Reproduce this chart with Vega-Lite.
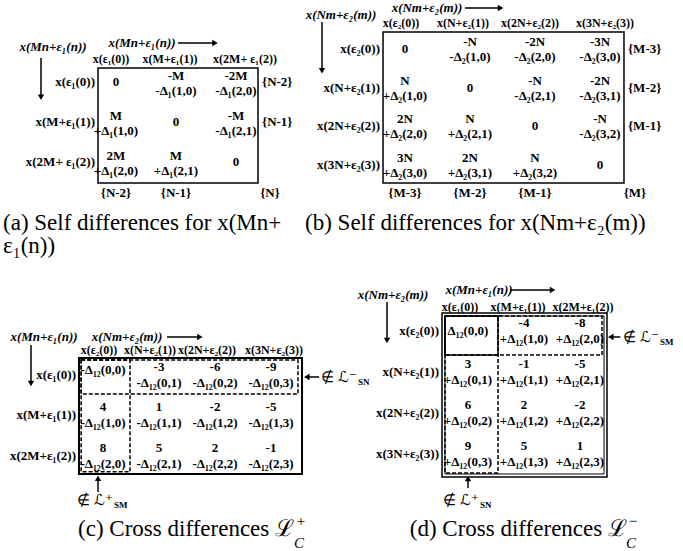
{
"$schema": "https://vega.github.io/schema/vega-lite/v6.json",
"padding": 0,
"config": {"view": {"stroke": null}, "text": {"font": "Liberation Serif", "fontSize": 13, "fontWeight": "bold", "color": "black"}, "rule": {"color": "black", "strokeWidth": 1.5}, "point": {"color": "black", "filled": true, "opacity": 1}},
"datasets": {
"a": [
{"k":"cell","r":0,"c":0,"t":"0"},
{"k":"cell","r":0,"c":1,"t":"-M\n-Δ₁(1,0)"},
{"k":"cell","r":0,"c":2,"t":"-2M\n-Δ₁(2,0)"},
{"k":"cell","r":1,"c":0,"t":"M\n+Δ₁(1,0)"},
{"k":"cell","r":1,"c":1,"t":"0"},
{"k":"cell","r":1,"c":2,"t":"-M\n-Δ₁(2,1)"},
{"k":"cell","r":2,"c":0,"t":"2M\n+Δ₁(2,0)"},
{"k":"cell","r":2,"c":1,"t":"M\n+Δ₁(2,1)"},
{"k":"cell","r":2,"c":2,"t":"0"},
{"k":"row","r":0,"t":"x(ε₁(0))"},
{"k":"row","r":1,"t":"x(M+ε₁(1))"},
{"k":"row","r":2,"t":"x(2M+ ε₁(2))"},
{"k":"col","c":0,"t":"x(ε₁(0))"},
{"k":"col","c":1,"t":"x(M+ε₁(1))"},
{"k":"col","c":2,"t":"x(2M+ ε₁(2))"},
{"k":"right","r":0,"t":"{N-2}"},
{"k":"right","r":1,"t":"{N-1}"},
{"k":"bottom","c":0,"t":"{N-2}"},
{"k":"bottom","c":1,"t":"{N-1}"},
{"k":"corner","t":"{N}"},
{"k":"lt","t":"x(Mn+ε₁(n))"},
{"k":"tt","t":"x(Mn+ε₁(n))"},
{"k":"cap","t":"(a) Self differences for x(Mn+\nε₁(n))"}
],
"b": [
{"k":"cell","r":0,"c":0,"t":"0"},
{"k":"cell","r":0,"c":1,"t":"-N\n-Δ₂(1,0)"},
{"k":"cell","r":0,"c":2,"t":"-2N\n-Δ₂(2,0)"},
{"k":"cell","r":0,"c":3,"t":"-3N\n-Δ₂(3,0)"},
{"k":"cell","r":1,"c":0,"t":"N\n+Δ₂(1,0)"},
{"k":"cell","r":1,"c":1,"t":"0"},
{"k":"cell","r":1,"c":2,"t":"-N\n-Δ₂(2,1)"},
{"k":"cell","r":1,"c":3,"t":"-2N\n-Δ₂(3,1)"},
{"k":"cell","r":2,"c":0,"t":"2N\n+Δ₂(2,0)"},
{"k":"cell","r":2,"c":1,"t":"N\n+Δ₂(2,1)"},
{"k":"cell","r":2,"c":2,"t":"0"},
{"k":"cell","r":2,"c":3,"t":"-N\n-Δ₂(3,2)"},
{"k":"cell","r":3,"c":0,"t":"3N\n+Δ₂(3,0)"},
{"k":"cell","r":3,"c":1,"t":"2N\n+Δ₂(3,1)"},
{"k":"cell","r":3,"c":2,"t":"N\n+Δ₂(3,2)"},
{"k":"cell","r":3,"c":3,"t":"0"},
{"k":"row","r":0,"t":"x(ε₂(0))"},
{"k":"row","r":1,"t":"x(N+ε₂(1))"},
{"k":"row","r":2,"t":"x(2N+ε₂(2))"},
{"k":"row","r":3,"t":"x(3N+ε₂(3))"},
{"k":"col","c":0,"t":"x(ε₂(0))"},
{"k":"col","c":1,"t":"x(N+ε₂(1))"},
{"k":"col","c":2,"t":"x(2N+ε₂(2))"},
{"k":"col","c":3,"t":"x(3N+ε₂(3))"},
{"k":"right","r":0,"t":"{M-3}"},
{"k":"right","r":1,"t":"{M-2}"},
{"k":"right","r":2,"t":"{M-1}"},
{"k":"bottom","c":0,"t":"{M-3}"},
{"k":"bottom","c":1,"t":"{M-2}"},
{"k":"bottom","c":2,"t":"{M-1}"},
{"k":"corner","t":"{M}"},
{"k":"lt","t":"x(Nm+ε₂(m))"},
{"k":"tt","t":"x(Nm+ε₂(m))"},
{"k":"cap","t":"(b) Self differences for x(Nm+ε₂(m))"}
],
"c": [
{"k":"cell","r":0,"c":0,"t":"-Δ₁₂(0,0)"},
{"k":"cell","r":0,"c":1,"t":"-3\n-Δ₁₂(0,1)"},
{"k":"cell","r":0,"c":2,"t":"-6\n-Δ₁₂(0,2)"},
{"k":"cell","r":0,"c":3,"t":"-9\n-Δ₁₂(0,3)"},
{"k":"cell","r":1,"c":0,"t":"4\n-Δ₁₂(1,0)"},
{"k":"cell","r":1,"c":1,"t":"1\n-Δ₁₂(1,1)"},
{"k":"cell","r":1,"c":2,"t":"-2\n-Δ₁₂(1,2)"},
{"k":"cell","r":1,"c":3,"t":"-5\n-Δ₁₂(1,3)"},
{"k":"cell","r":2,"c":0,"t":"8\n-Δ₁₂(2,0)"},
{"k":"cell","r":2,"c":1,"t":"5\n-Δ₁₂(2,1)"},
{"k":"cell","r":2,"c":2,"t":"2\n-Δ₁₂(2,2)"},
{"k":"cell","r":2,"c":3,"t":"-1\n-Δ₁₂(2,3)"},
{"k":"row","r":0,"t":"x(ε₁(0))"},
{"k":"row","r":1,"t":"x(M+ε₁(1))"},
{"k":"row","r":2,"t":"x(2M+ε₁(2))"},
{"k":"col","c":0,"t":"x(ε₂(0))"},
{"k":"col","c":1,"t":"x(N+ε₂(1))"},
{"k":"col","c":2,"t":"x(2N+ε₂(2))"},
{"k":"col","c":3,"t":"x(3N+ε₂(3))"},
{"k":"lt","t":"x(Mn+ε₁(n))"},
{"k":"tt","t":"x(Nm+ε₂(m))"},
{"k":"noteR","t":"∉ ℒ⁻","s":"SN"},
{"k":"noteB","t":"∉ ℒ⁺","s":"SM"},
{"k":"cap","t":"(c) Cross differences ℒ","sup":"+","sub":"C"}
],
"d": [
{"k":"cell","r":0,"c":0,"t":"Δ₁₂(0,0)"},
{"k":"cell","r":0,"c":1,"t":"-4\n+Δ₁₂(1,0)"},
{"k":"cell","r":0,"c":2,"t":"-8\n+Δ₁₂(2,0)"},
{"k":"cell","r":1,"c":0,"t":"3\n+Δ₁₂(0,1)"},
{"k":"cell","r":1,"c":1,"t":"-1\n+Δ₁₂(1,1)"},
{"k":"cell","r":1,"c":2,"t":"-5\n+Δ₁₂(2,1)"},
{"k":"cell","r":2,"c":0,"t":"6\n+Δ₁₂(0,2)"},
{"k":"cell","r":2,"c":1,"t":"2\n+Δ₁₂(1,2)"},
{"k":"cell","r":2,"c":2,"t":"-2\n+Δ₁₂(2,2)"},
{"k":"cell","r":3,"c":0,"t":"9\n+Δ₁₂(0,3)"},
{"k":"cell","r":3,"c":1,"t":"5\n+Δ₁₂(1,3)"},
{"k":"cell","r":3,"c":2,"t":"1\n+Δ₁₂(2,3)"},
{"k":"row","r":0,"t":"x(ε₂(0))"},
{"k":"row","r":1,"t":"x(N+ε₂(1))"},
{"k":"row","r":2,"t":"x(2N+ε₂(2))"},
{"k":"row","r":3,"t":"x(3N+ε₂(3))"},
{"k":"col","c":0,"t":"x(ε₁(0))"},
{"k":"col","c":1,"t":"x(M+ε₁(1))"},
{"k":"col","c":2,"t":"x(2M+ε₁(2))"},
{"k":"lt","t":"x(Nm+ε₂(m))"},
{"k":"tt","t":"x(Mn+ε₁(n))"},
{"k":"noteR","t":"∉ ℒ⁻","s":"SM"},
{"k":"noteB","t":"∉ ℒ⁺","s":"SN"},
{"k":"cap","t":"(d) Cross differences ℒ","sup":"−","sub":"C"}
]
},
"spacing": 0,
"vconcat": [
{"hconcat": [
{
"width": 300, "height": 265,
"data": {"name": "a"},
"layer": [
{"data": {"values": [{}]}, "mark": {"type": "rect", "fillOpacity": 0, "stroke": "black", "strokeWidth": 1.5}, "encoding": {"x": {"datum": -0.3, "type": "quantitative", "axis": null, "scale": {"domain": [-1.9333, 3.0667], "nice": false, "zero": false}}, "x2": {"datum": 2.367}, "y": {"datum": -0.35, "type": "quantitative", "axis": null, "scale": {"domain": [-2.05, 4.575], "nice": false, "zero": false, "reverse": true}}, "y2": {"datum": 2.525}}},
{"transform": [{"filter": "datum.k==='cell' && indexof(datum.t,'\\n')<0"}], "mark": {"type": "text", "baseline": "middle"}, "encoding": {"x": {"field": "c", "type": "quantitative", "axis": null, "scale": {"domain": [-1.9333, 3.0667], "nice": false, "zero": false}}, "y": {"field": "r", "type": "quantitative", "axis": null, "scale": {"domain": [-2.05, 4.575], "nice": false, "zero": false, "reverse": true}}, "text": {"field": "t"}}},
{"transform": [{"filter": "datum.k==='cell' && indexof(datum.t,'\\n')>=0"}], "mark": {"type": "text", "lineBreak": "\n", "lineHeight": 15, "baseline": "middle", "dy": -6}, "encoding": {"x": {"field": "c", "type": "quantitative", "axis": null}, "y": {"field": "r", "type": "quantitative", "axis": null}, "text": {"field": "t"}}},
{"transform": [{"filter": "datum.k==='row'"}], "mark": {"type": "text", "align": "right", "dx": -3, "baseline": "middle"}, "encoding": {"x": {"datum": -0.3, "type": "quantitative", "axis": null}, "y": {"field": "r", "type": "quantitative", "axis": null}, "text": {"field": "t"}}},
{"transform": [{"filter": "datum.k==='col' && datum.c===0"}], "mark": {"type": "text", "baseline": "middle", "fontSize": 12, "dx": -5}, "encoding": {"x": {"field": "c", "type": "quantitative", "axis": null}, "y": {"datum": -0.575, "type": "quantitative", "axis": null}, "text": {"field": "t"}}},
{"transform": [{"filter": "datum.k==='col' && datum.c===1"}], "mark": {"type": "text", "baseline": "middle", "fontSize": 12, "dx": -6}, "encoding": {"x": {"field": "c", "type": "quantitative", "axis": null}, "y": {"datum": -0.575, "type": "quantitative", "axis": null}, "text": {"field": "t"}}},
{"transform": [{"filter": "datum.k==='col' && datum.c===2"}], "mark": {"type": "text", "baseline": "middle", "fontSize": 12, "dx": 9}, "encoding": {"x": {"field": "c", "type": "quantitative", "axis": null}, "y": {"datum": -0.575, "type": "quantitative", "axis": null}, "text": {"field": "t"}}},
{"transform": [{"filter": "datum.k==='right'"}], "mark": {"type": "text", "align": "left", "dx": 4, "baseline": "middle"}, "encoding": {"x": {"datum": 2.367, "type": "quantitative", "axis": null}, "y": {"field": "r", "type": "quantitative", "axis": null}, "text": {"field": "t"}}},
{"transform": [{"filter": "datum.k==='bottom'"}], "mark": {"type": "text", "baseline": "middle"}, "encoding": {"x": {"field": "c", "type": "quantitative", "axis": null}, "y": {"datum": 2.775, "type": "quantitative", "axis": null}, "text": {"field": "t"}}},
{"transform": [{"filter": "datum.k==='corner'"}], "mark": {"type": "text", "baseline": "middle"}, "encoding": {"x": {"datum": 2.567, "type": "quantitative", "axis": null}, "y": {"datum": 2.775, "type": "quantitative", "axis": null}, "text": {"field": "t"}}},
{"transform": [{"filter": "datum.k==='lt'"}], "mark": {"type": "text", "fontStyle": "italic", "baseline": "middle"}, "encoding": {"x": {"datum": -1.05, "type": "quantitative", "axis": null}, "y": {"datum": -0.875, "type": "quantitative", "axis": null}, "text": {"field": "t"}}},
{"transform": [{"filter": "datum.k==='tt'"}], "mark": {"type": "text", "fontStyle": "italic", "baseline": "middle"}, "encoding": {"x": {"datum": 0.433, "type": "quantitative", "axis": null}, "y": {"datum": -0.975, "type": "quantitative", "axis": null}, "text": {"field": "t"}}},
{"data": {"values": [{}]}, "mark": {"type": "rule"}, "encoding": {"x": {"datum": -1.25, "type": "quantitative", "axis": null}, "y": {"datum": -0.6, "type": "quantitative", "axis": null}, "y2": {"datum": 0.38}}},
{"data": {"values": [{}]}, "mark": {"type": "point", "shape": "triangle-down", "size": 40}, "encoding": {"x": {"datum": -1.25, "type": "quantitative", "axis": null}, "y": {"datum": 0.38, "type": "quantitative", "axis": null}}},
{"data": {"values": [{}]}, "mark": {"type": "rule"}, "encoding": {"y": {"datum": -0.975, "type": "quantitative", "axis": null}, "x": {"datum": 1.033, "type": "quantitative", "axis": null}, "x2": {"datum": 1.65}}},
{"data": {"values": [{}]}, "mark": {"type": "point", "shape": "triangle-right", "size": 40}, "encoding": {"x": {"datum": 1.65, "type": "quantitative", "axis": null}, "y": {"datum": -0.975, "type": "quantitative", "axis": null}}},
{"transform": [{"filter": "datum.k==='cap'"}], "mark": {"type": "text", "font": "Liberation Serif", "fontSize": 23, "fontWeight": "normal", "align": "left", "baseline": "top", "lineBreak": "\n", "lineHeight": 23}, "encoding": {"x": {"datum": -1.883, "type": "quantitative", "axis": null}, "y": {"datum": 3.2375, "type": "quantitative", "axis": null}, "text": {"field": "t"}}}
]
},
{
"width": 383, "height": 265,
"data": {"name": "b"},
"layer": [
{"data": {"values": [{}]}, "mark": {"type": "rect", "fillOpacity": 0, "stroke": "black", "strokeWidth": 1.5}, "encoding": {"x": {"datum": -0.338, "type": "quantitative", "axis": null, "scale": {"domain": [-1.6154, 4.2769], "nice": false, "zero": false}}, "x2": {"datum": 3.369}, "y": {"datum": -0.455, "type": "quantitative", "axis": null, "scale": {"domain": [-1.2857, 5.5974], "nice": false, "zero": false, "reverse": true}}, "y2": {"datum": 3.468}}},
{"transform": [{"filter": "datum.k==='cell' && indexof(datum.t,'\\n')<0"}], "mark": {"type": "text", "baseline": "middle"}, "encoding": {"x": {"field": "c", "type": "quantitative", "axis": null, "scale": {"domain": [-1.6154, 4.2769], "nice": false, "zero": false}}, "y": {"field": "r", "type": "quantitative", "axis": null, "scale": {"domain": [-1.2857, 5.5974], "nice": false, "zero": false, "reverse": true}}, "text": {"field": "t"}}},
{"transform": [{"filter": "datum.k==='cell' && indexof(datum.t,'\\n')>=0"}], "mark": {"type": "text", "lineBreak": "\n", "lineHeight": 15, "baseline": "middle", "dy": -7}, "encoding": {"x": {"field": "c", "type": "quantitative", "axis": null}, "y": {"field": "r", "type": "quantitative", "axis": null}, "text": {"field": "t"}}},
{"transform": [{"filter": "datum.k==='row'"}], "mark": {"type": "text", "align": "right", "dx": -3, "baseline": "middle"}, "encoding": {"x": {"datum": -0.338, "type": "quantitative", "axis": null}, "y": {"field": "r", "type": "quantitative", "axis": null}, "text": {"field": "t"}}},
{"transform": [{"filter": "datum.k==='col' && datum.c===0"}], "mark": {"type": "text", "baseline": "middle", "fontSize": 12, "dx": -4}, "encoding": {"x": {"field": "c", "type": "quantitative", "axis": null}, "y": {"datum": -0.688, "type": "quantitative", "axis": null}, "text": {"field": "t"}}},
{"transform": [{"filter": "datum.k==='col' && datum.c===1"}], "mark": {"type": "text", "baseline": "middle", "fontSize": 12, "dx": -7}, "encoding": {"x": {"field": "c", "type": "quantitative", "axis": null}, "y": {"datum": -0.688, "type": "quantitative", "axis": null}, "text": {"field": "t"}}},
{"transform": [{"filter": "datum.k==='col' && datum.c===2"}], "mark": {"type": "text", "baseline": "middle", "fontSize": 12, "dx": -5}, "encoding": {"x": {"field": "c", "type": "quantitative", "axis": null}, "y": {"datum": -0.688, "type": "quantitative", "axis": null}, "text": {"field": "t"}}},
{"transform": [{"filter": "datum.k==='col' && datum.c===3"}], "mark": {"type": "text", "baseline": "middle", "fontSize": 12, "dx": 5}, "encoding": {"x": {"field": "c", "type": "quantitative", "axis": null}, "y": {"datum": -0.688, "type": "quantitative", "axis": null}, "text": {"field": "t"}}},
{"transform": [{"filter": "datum.k==='right'"}], "mark": {"type": "text", "align": "left", "dx": 4, "baseline": "middle"}, "encoding": {"x": {"datum": 3.369, "type": "quantitative", "axis": null}, "y": {"field": "r", "type": "quantitative", "axis": null}, "text": {"field": "t"}}},
{"transform": [{"filter": "datum.k==='bottom'"}], "mark": {"type": "text", "baseline": "middle"}, "encoding": {"x": {"field": "c", "type": "quantitative", "axis": null}, "y": {"datum": 3.727, "type": "quantitative", "axis": null}, "text": {"field": "t"}}},
{"transform": [{"filter": "datum.k==='corner'"}], "mark": {"type": "text", "baseline": "middle"}, "encoding": {"x": {"datum": 3.538, "type": "quantitative", "axis": null}, "y": {"datum": 3.727, "type": "quantitative", "axis": null}, "text": {"field": "t"}}},
{"transform": [{"filter": "datum.k==='lt'"}], "mark": {"type": "text", "fontStyle": "italic", "baseline": "middle"}, "encoding": {"x": {"datum": -0.985, "type": "quantitative", "axis": null}, "y": {"datum": -0.896, "type": "quantitative", "axis": null}, "text": {"field": "t"}}},
{"transform": [{"filter": "datum.k==='tt'"}], "mark": {"type": "text", "fontStyle": "italic", "baseline": "middle"}, "encoding": {"x": {"datum": 0.338, "type": "quantitative", "axis": null}, "y": {"datum": -1.078, "type": "quantitative", "axis": null}, "text": {"field": "t"}}},
{"data": {"values": [{}]}, "mark": {"type": "rule"}, "encoding": {"x": {"datum": -1.277, "type": "quantitative", "axis": null}, "y": {"datum": -0.714, "type": "quantitative", "axis": null}, "y2": {"datum": 0.55}}},
{"data": {"values": [{}]}, "mark": {"type": "point", "shape": "triangle-down", "size": 40}, "encoding": {"x": {"datum": -1.277, "type": "quantitative", "axis": null}, "y": {"datum": 0.55, "type": "quantitative", "axis": null}}},
{"data": {"values": [{}]}, "mark": {"type": "rule"}, "encoding": {"y": {"datum": -1.078, "type": "quantitative", "axis": null}, "x": {"datum": 0.923, "type": "quantitative", "axis": null}, "x2": {"datum": 1.47}}},
{"data": {"values": [{}]}, "mark": {"type": "point", "shape": "triangle-right", "size": 40}, "encoding": {"x": {"datum": 1.47, "type": "quantitative", "axis": null}, "y": {"datum": -1.078, "type": "quantitative", "axis": null}}},
{"transform": [{"filter": "datum.k==='cap'"}], "mark": {"type": "text", "font": "Liberation Serif", "fontSize": 23, "fontWeight": "normal", "align": "left", "baseline": "top"}, "encoding": {"x": {"datum": -1.538, "type": "quantitative", "axis": null}, "y": {"datum": 4.208, "type": "quantitative", "axis": null}, "text": {"field": "t"}}}
]
}
], "spacing": 0, "bounds": "flush"},
{"hconcat": [
{
"width": 370, "height": 286,
"data": {"name": "c"},
"layer": [
{"data": {"values": [{}]}, "mark": {"type": "rect", "fillOpacity": 0, "stroke": "black", "strokeWidth": 2}, "encoding": {"x": {"datum": -0.429, "type": "quantitative", "axis": null, "scale": {"domain": [-1.8393, 4.7679], "nice": false, "zero": false}}, "x2": {"datum": 3.554}, "y": {"datum": -0.42, "type": "quantitative", "axis": null, "scale": {"domain": [-2.716, 4.3457], "nice": false, "zero": false, "reverse": true}}, "y2": {"datum": 2.444}}},
{"data": {"values": [{}]}, "mark": {"type": "rect", "fillOpacity": 0, "stroke": "black", "strokeWidth": 1.5, "strokeDash": [4, 2]}, "encoding": {"x": {"datum": -0.39, "type": "quantitative", "axis": null}, "x2": {"datum": 0.482}, "y": {"datum": -0.37, "type": "quantitative", "axis": null}, "y2": {"datum": 2.39}}},
{"data": {"values": [{}]}, "mark": {"type": "rect", "fillOpacity": 0, "stroke": "black", "strokeWidth": 1.5, "strokeDash": [4, 2]}, "encoding": {"x": {"datum": -0.39, "type": "quantitative", "axis": null}, "x2": {"datum": 3.482}, "y": {"datum": -0.37, "type": "quantitative", "axis": null}, "y2": {"datum": 0.469}}},
{"transform": [{"filter": "datum.k==='cell' && indexof(datum.t,'\\n')<0"}], "mark": {"type": "text", "baseline": "middle", "dy": -5}, "encoding": {"x": {"field": "c", "type": "quantitative", "axis": null, "scale": {"domain": [-1.8393, 4.7679], "nice": false, "zero": false}}, "y": {"field": "r", "type": "quantitative", "axis": null, "scale": {"domain": [-2.716, 4.3457], "nice": false, "zero": false, "reverse": true}}, "text": {"field": "t"}}},
{"transform": [{"filter": "datum.k==='cell' && indexof(datum.t,'\\n')>=0"}], "mark": {"type": "text", "lineBreak": "\n", "lineHeight": 16, "baseline": "middle", "dy": -8}, "encoding": {"x": {"field": "c", "type": "quantitative", "axis": null}, "y": {"field": "r", "type": "quantitative", "axis": null}, "text": {"field": "t"}}},
{"transform": [{"filter": "datum.k==='row'"}], "mark": {"type": "text", "align": "right", "dx": -3, "baseline": "middle"}, "encoding": {"x": {"datum": -0.429, "type": "quantitative", "axis": null}, "y": {"field": "r", "type": "quantitative", "axis": null}, "text": {"field": "t"}}},
{"transform": [{"filter": "datum.k==='col' && datum.c===0"}], "mark": {"type": "text", "baseline": "middle", "fontSize": 12, "dx": -4}, "encoding": {"x": {"field": "c", "type": "quantitative", "axis": null}, "y": {"datum": -0.617, "type": "quantitative", "axis": null}, "text": {"field": "t"}}},
{"transform": [{"filter": "datum.k==='col' && datum.c===1"}], "mark": {"type": "text", "baseline": "middle", "fontSize": 12, "dx": -9}, "encoding": {"x": {"field": "c", "type": "quantitative", "axis": null}, "y": {"datum": -0.617, "type": "quantitative", "axis": null}, "text": {"field": "t"}}},
{"transform": [{"filter": "datum.k==='col' && datum.c===2"}], "mark": {"type": "text", "baseline": "middle", "fontSize": 12, "dx": -8}, "encoding": {"x": {"field": "c", "type": "quantitative", "axis": null}, "y": {"datum": -0.617, "type": "quantitative", "axis": null}, "text": {"field": "t"}}},
{"transform": [{"filter": "datum.k==='col' && datum.c===3"}], "mark": {"type": "text", "baseline": "middle", "fontSize": 12, "dx": 3}, "encoding": {"x": {"field": "c", "type": "quantitative", "axis": null}, "y": {"datum": -0.617, "type": "quantitative", "axis": null}, "text": {"field": "t"}}},
{"transform": [{"filter": "datum.k==='lt'"}], "mark": {"type": "text", "fontStyle": "italic", "baseline": "middle"}, "encoding": {"x": {"datum": -1.054, "type": "quantitative", "axis": null}, "y": {"datum": -0.938, "type": "quantitative", "axis": null}, "text": {"field": "t"}}},
{"transform": [{"filter": "datum.k==='tt'"}], "mark": {"type": "text", "fontStyle": "italic", "baseline": "middle"}, "encoding": {"x": {"datum": 0.429, "type": "quantitative", "axis": null}, "y": {"datum": -0.938, "type": "quantitative", "axis": null}, "text": {"field": "t"}}},
{"data": {"values": [{}]}, "mark": {"type": "rule"}, "encoding": {"x": {"datum": -1.286, "type": "quantitative", "axis": null}, "y": {"datum": -0.741, "type": "quantitative", "axis": null}, "y2": {"datum": 0.21}}},
{"data": {"values": [{}]}, "mark": {"type": "point", "shape": "triangle-down", "size": 40}, "encoding": {"x": {"datum": -1.286, "type": "quantitative", "axis": null}, "y": {"datum": 0.21, "type": "quantitative", "axis": null}}},
{"data": {"values": [{}]}, "mark": {"type": "rule"}, "encoding": {"y": {"datum": -0.938, "type": "quantitative", "axis": null}, "x": {"datum": 1.143, "type": "quantitative", "axis": null}, "x2": {"datum": 1.73}}},
{"data": {"values": [{}]}, "mark": {"type": "point", "shape": "triangle-right", "size": 40}, "encoding": {"x": {"datum": 1.73, "type": "quantitative", "axis": null}, "y": {"datum": -0.938, "type": "quantitative", "axis": null}}},
{"data": {"values": [{}]}, "mark": {"type": "rule"}, "encoding": {"y": {"datum": 0.049, "type": "quantitative", "axis": null}, "x": {"datum": 3.64, "type": "quantitative", "axis": null}, "x2": {"datum": 3.86}}},
{"data": {"values": [{}]}, "mark": {"type": "point", "shape": "triangle-left", "size": 40}, "encoding": {"x": {"datum": 3.64, "type": "quantitative", "axis": null}, "y": {"datum": 0.049, "type": "quantitative", "axis": null}}},
{"data": {"values": [{}]}, "mark": {"type": "rule"}, "encoding": {"x": {"datum": -0.089, "type": "quantitative", "axis": null}, "y": {"datum": 2.55, "type": "quantitative", "axis": null}, "y2": {"datum": 2.889}}},
{"data": {"values": [{}]}, "mark": {"type": "point", "shape": "triangle-up", "size": 40}, "encoding": {"x": {"datum": -0.089, "type": "quantitative", "axis": null}, "y": {"datum": 2.55, "type": "quantitative", "axis": null}}},
{"transform": [{"filter": "datum.k==='noteR'"}], "mark": {"type": "text", "align": "left", "baseline": "middle", "fontSize": 15, "fontWeight": "normal", "dx": 1}, "encoding": {"x": {"datum": 3.875, "type": "quantitative", "axis": null}, "y": {"datum": 0.049, "type": "quantitative", "axis": null}, "text": {"field": "t"}}},
{"transform": [{"filter": "datum.k==='noteR'"}], "mark": {"type": "text", "align": "left", "baseline": "middle", "fontSize": 9, "dx": 38, "dy": 5}, "encoding": {"x": {"datum": 3.875, "type": "quantitative", "axis": null}, "y": {"datum": 0.049, "type": "quantitative", "axis": null}, "text": {"field": "s"}}},
{"transform": [{"filter": "datum.k==='noteB'"}], "mark": {"type": "text", "align": "left", "baseline": "middle", "fontSize": 15, "fontWeight": "normal"}, "encoding": {"x": {"datum": -0.464, "type": "quantitative", "axis": null}, "y": {"datum": 3.086, "type": "quantitative", "axis": null}, "text": {"field": "t"}}},
{"transform": [{"filter": "datum.k==='noteB'"}], "mark": {"type": "text", "align": "left", "baseline": "middle", "fontSize": 9, "dx": 37, "dy": 5}, "encoding": {"x": {"datum": -0.464, "type": "quantitative", "axis": null}, "y": {"datum": 3.086, "type": "quantitative", "axis": null}, "text": {"field": "s"}}},
{"transform": [{"filter": "datum.k==='cap'"}], "mark": {"type": "text", "font": "Liberation Serif", "fontSize": 23, "fontWeight": "normal", "align": "right", "baseline": "top"}, "encoding": {"x": {"datum": 3.411, "type": "quantitative", "axis": null}, "y": {"datum": 3.543, "type": "quantitative", "axis": null}, "text": {"field": "t"}}},
{"transform": [{"filter": "datum.k==='cap'"}], "mark": {"type": "text", "font": "Liberation Serif", "fontSize": 15, "fontWeight": "normal", "baseline": "middle"}, "encoding": {"x": {"datum": 3.536, "type": "quantitative", "axis": null}, "y": {"datum": 3.605, "type": "quantitative", "axis": null}, "text": {"field": "sup"}}},
{"transform": [{"filter": "datum.k==='cap'"}], "mark": {"type": "text", "font": "Liberation Serif", "fontSize": 15, "fontWeight": "normal", "fontStyle": "italic", "baseline": "middle"}, "encoding": {"x": {"datum": 3.5, "type": "quantitative", "axis": null}, "y": {"datum": 4.148, "type": "quantitative", "axis": null}, "text": {"field": "sub"}}}
]
},
{
"width": 313, "height": 286,
"data": {"name": "d"},
"layer": [
{"data": {"values": [{}]}, "mark": {"type": "rect", "fillOpacity": 0, "stroke": "black", "strokeWidth": 1.5}, "encoding": {"x": {"datum": -0.464, "type": "quantitative", "axis": null, "scale": {"domain": [-1.75, 3.8393], "nice": false, "zero": false}}, "x2": {"datum": 2.482}, "y": {"datum": -0.439, "type": "quantitative", "axis": null, "scale": {"domain": [-1.6098, 5.3659], "nice": false, "zero": false, "reverse": true}}, "y2": {"datum": 3.561}}},
{"data": {"values": [{}]}, "mark": {"type": "rect", "fillOpacity": 0, "stroke": "black", "strokeWidth": 1}, "encoding": {"x": {"datum": -0.411, "type": "quantitative", "axis": null}, "x2": {"datum": 2.429}, "y": {"datum": -0.366, "type": "quantitative", "axis": null}, "y2": {"datum": 3.488}}},
{"data": {"values": [{}]}, "mark": {"type": "rect", "fillOpacity": 0, "stroke": "black", "strokeWidth": 1.5}, "encoding": {"x": {"datum": -0.411, "type": "quantitative", "axis": null}, "x2": {"datum": 0.536}, "y": {"datum": -0.366, "type": "quantitative", "axis": null}, "y2": {"datum": 0.585}}},
{"data": {"values": [{}]}, "mark": {"type": "rect", "fillOpacity": 0, "stroke": "black", "strokeWidth": 1.5, "strokeDash": [4, 2]}, "encoding": {"x": {"datum": -0.411, "type": "quantitative", "axis": null}, "x2": {"datum": 0.536}, "y": {"datum": -0.366, "type": "quantitative", "axis": null}, "y2": {"datum": 3.463}}},
{"data": {"values": [{}]}, "mark": {"type": "rect", "fillOpacity": 0, "stroke": "black", "strokeWidth": 1.5, "strokeDash": [4, 2]}, "encoding": {"x": {"datum": -0.411, "type": "quantitative", "axis": null}, "x2": {"datum": 2.393}, "y": {"datum": -0.366, "type": "quantitative", "axis": null}, "y2": {"datum": 0.585}}},
{"transform": [{"filter": "datum.k==='cell' && indexof(datum.t,'\\n')<0"}], "mark": {"type": "text", "baseline": "middle"}, "encoding": {"x": {"field": "c", "type": "quantitative", "axis": null, "scale": {"domain": [-1.75, 3.8393], "nice": false, "zero": false}}, "y": {"field": "r", "type": "quantitative", "axis": null, "scale": {"domain": [-1.6098, 5.3659], "nice": false, "zero": false, "reverse": true}}, "text": {"field": "t"}}},
{"transform": [{"filter": "datum.k==='cell' && indexof(datum.t,'\\n')>=0"}], "mark": {"type": "text", "lineBreak": "\n", "lineHeight": 16, "baseline": "middle", "dy": -8}, "encoding": {"x": {"field": "c", "type": "quantitative", "axis": null}, "y": {"field": "r", "type": "quantitative", "axis": null}, "text": {"field": "t"}}},
{"transform": [{"filter": "datum.k==='row'"}], "mark": {"type": "text", "align": "right", "dx": -3, "baseline": "middle"}, "encoding": {"x": {"datum": -0.464, "type": "quantitative", "axis": null}, "y": {"field": "r", "type": "quantitative", "axis": null}, "text": {"field": "t"}}},
{"transform": [{"filter": "datum.k==='col' && datum.c===0"}], "mark": {"type": "text", "baseline": "middle", "fontSize": 12, "dx": -8}, "encoding": {"x": {"field": "c", "type": "quantitative", "axis": null}, "y": {"datum": -0.585, "type": "quantitative", "axis": null}, "text": {"field": "t"}}},
{"transform": [{"filter": "datum.k==='col' && datum.c===1"}], "mark": {"type": "text", "baseline": "middle", "fontSize": 12, "dx": -6}, "encoding": {"x": {"field": "c", "type": "quantitative", "axis": null}, "y": {"datum": -0.585, "type": "quantitative", "axis": null}, "text": {"field": "t"}}},
{"transform": [{"filter": "datum.k==='col' && datum.c===2"}], "mark": {"type": "text", "baseline": "middle", "fontSize": 12, "dx": 3}, "encoding": {"x": {"field": "c", "type": "quantitative", "axis": null}, "y": {"datum": -0.585, "type": "quantitative", "axis": null}, "text": {"field": "t"}}},
{"transform": [{"filter": "datum.k==='lt'"}], "mark": {"type": "text", "fontStyle": "italic", "baseline": "middle"}, "encoding": {"x": {"datum": -1.339, "type": "quantitative", "axis": null}, "y": {"datum": -0.878, "type": "quantitative", "axis": null}, "text": {"field": "t"}}},
{"transform": [{"filter": "datum.k==='tt'"}], "mark": {"type": "text", "fontStyle": "italic", "baseline": "middle"}, "encoding": {"x": {"datum": 0.196, "type": "quantitative", "axis": null}, "y": {"datum": -1.0, "type": "quantitative", "axis": null}, "text": {"field": "t"}}},
{"data": {"values": [{}]}, "mark": {"type": "rule"}, "encoding": {"x": {"datum": -1.446, "type": "quantitative", "axis": null}, "y": {"datum": -0.707, "type": "quantitative", "axis": null}, "y2": {"datum": 0.23}}},
{"data": {"values": [{}]}, "mark": {"type": "point", "shape": "triangle-down", "size": 40}, "encoding": {"x": {"datum": -1.446, "type": "quantitative", "axis": null}, "y": {"datum": 0.23, "type": "quantitative", "axis": null}}},
{"data": {"values": [{}]}, "mark": {"type": "rule"}, "encoding": {"y": {"datum": -1.0, "type": "quantitative", "axis": null}, "x": {"datum": 0.75, "type": "quantitative", "axis": null}, "x2": {"datum": 1.51}}},
{"data": {"values": [{}]}, "mark": {"type": "point", "shape": "triangle-right", "size": 40}, "encoding": {"x": {"datum": 1.51, "type": "quantitative", "axis": null}, "y": {"datum": -1.0, "type": "quantitative", "axis": null}}},
{"data": {"values": [{}]}, "mark": {"type": "rule"}, "encoding": {"y": {"datum": 0.146, "type": "quantitative", "axis": null}, "x": {"datum": 2.55, "type": "quantitative", "axis": null}, "x2": {"datum": 2.72}}},
{"data": {"values": [{}]}, "mark": {"type": "point", "shape": "triangle-left", "size": 40}, "encoding": {"x": {"datum": 2.55, "type": "quantitative", "axis": null}, "y": {"datum": 0.146, "type": "quantitative", "axis": null}}},
{"data": {"values": [{}]}, "mark": {"type": "rule"}, "encoding": {"x": {"datum": 0, "type": "quantitative", "axis": null}, "y": {"datum": 3.6, "type": "quantitative", "axis": null}, "y2": {"datum": 3.83}}},
{"data": {"values": [{}]}, "mark": {"type": "point", "shape": "triangle-up", "size": 40}, "encoding": {"x": {"datum": 0, "type": "quantitative", "axis": null}, "y": {"datum": 3.6, "type": "quantitative", "axis": null}}},
{"transform": [{"filter": "datum.k==='noteR'"}], "mark": {"type": "text", "align": "left", "baseline": "middle", "fontSize": 15, "fontWeight": "normal", "dx": 1}, "encoding": {"x": {"datum": 2.75, "type": "quantitative", "axis": null}, "y": {"datum": 0.146, "type": "quantitative", "axis": null}, "text": {"field": "t"}}},
{"transform": [{"filter": "datum.k==='noteR'"}], "mark": {"type": "text", "align": "left", "baseline": "middle", "fontSize": 9, "dx": 38, "dy": 5}, "encoding": {"x": {"datum": 2.75, "type": "quantitative", "axis": null}, "y": {"datum": 0.146, "type": "quantitative", "axis": null}, "text": {"field": "s"}}},
{"transform": [{"filter": "datum.k==='noteB'"}], "mark": {"type": "text", "align": "left", "baseline": "middle", "fontSize": 15, "fontWeight": "normal"}, "encoding": {"x": {"datum": -0.446, "type": "quantitative", "axis": null}, "y": {"datum": 4.122, "type": "quantitative", "axis": null}, "text": {"field": "t"}}},
{"transform": [{"filter": "datum.k==='noteB'"}], "mark": {"type": "text", "align": "left", "baseline": "middle", "fontSize": 9, "dx": 37, "dy": 5}, "encoding": {"x": {"datum": -0.446, "type": "quantitative", "axis": null}, "y": {"datum": 4.122, "type": "quantitative", "axis": null}, "text": {"field": "s"}}},
{"transform": [{"filter": "datum.k==='cap'"}], "mark": {"type": "text", "font": "Liberation Serif", "fontSize": 23, "fontWeight": "normal", "align": "right", "baseline": "top"}, "encoding": {"x": {"datum": 2.839, "type": "quantitative", "axis": null}, "y": {"datum": 4.573, "type": "quantitative", "axis": null}, "text": {"field": "t"}}},
{"transform": [{"filter": "datum.k==='cap'"}], "mark": {"type": "text", "font": "Liberation Serif", "fontSize": 15, "fontWeight": "normal", "baseline": "middle"}, "encoding": {"x": {"datum": 2.946, "type": "quantitative", "axis": null}, "y": {"datum": 4.634, "type": "quantitative", "axis": null}, "text": {"field": "sup"}}},
{"transform": [{"filter": "datum.k==='cap'"}], "mark": {"type": "text", "font": "Liberation Serif", "fontSize": 15, "fontWeight": "normal", "fontStyle": "italic", "baseline": "middle"}, "encoding": {"x": {"datum": 2.911, "type": "quantitative", "axis": null}, "y": {"datum": 5.171, "type": "quantitative", "axis": null}, "text": {"field": "sub"}}}
]
}
], "spacing": 0, "bounds": "flush"}
]
}
